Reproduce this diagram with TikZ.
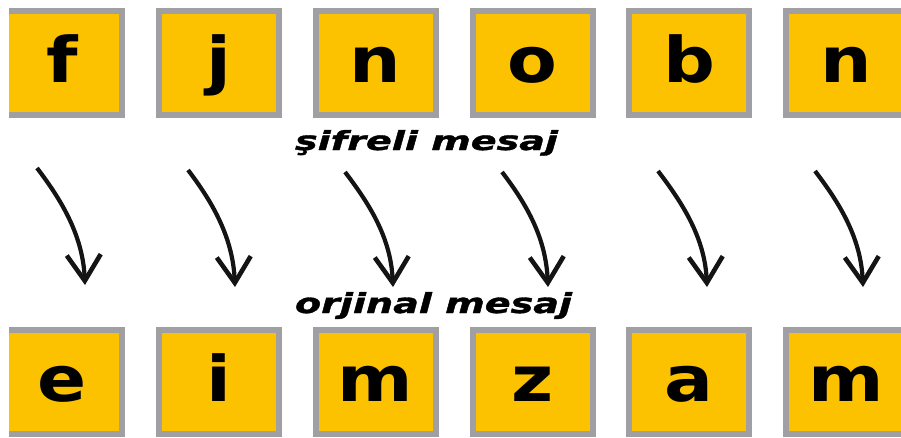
\documentclass[tikz,border=0pt]{standalone}
\usepackage{fontspec}
\setmainfont{DejaVu Sans}
\newfontfamily\capfont{DejaVu Sans Bold Oblique}[FakeBold=1.2]
\usetikzlibrary{arrows.meta,calc}
\definecolor{tileyellow}{HTML}{FCC200}
\definecolor{tilegray}{HTML}{A09FA3}
\definecolor{inkblack}{HTML}{141414}
\newcommand{\tileletter}[1]{\scalebox{1.15}[1]{#1}}
\tikzset{
  tile/.style={draw=tilegray, fill=tileyellow, line width=6pt,
    minimum width=120pt, minimum height=104pt, inner sep=0pt, outer sep=0pt,
    text height=38pt, text depth=0pt, text=black,
    font=\fontsize{63pt}{63pt}\selectfont\bfseries},
  caption/.style={anchor=base, inner sep=0pt, text=black,
    font=\fontsize{26pt}{26pt}\capfont},
  decode/.style={draw=inkblack, line width=4.2pt,
    -{Straight Barb[length=26pt,width=34pt,line width=4.6pt]}},
}
\begin{document}
\begin{tikzpicture}[x=1pt,y=-1pt]
  \useasboundingbox (0,0) rectangle (901,437);
  \clip (0,0) rectangle (901,437);

  % ciphertext row
  \node[tile] (c1) at (62,63)  {\tileletter{f}};
  \node[tile] (c2) at (219,63) {\tileletter{j}};
  \node[tile] (c3) at (375.5,63) {\tileletter{n}};
  \node[tile] (c4) at (532.5,63) {\tileletter{o}};
  \node[tile] (c5) at (689,63) {\tileletter{b}};
  \node[tile] (c6) at (846,63) {\tileletter{n}};

  % plaintext row
  \node[tile] (p1) at (62,382)  {\tileletter{e}};
  \node[tile] (p2) at (219,382) {\tileletter{i}};
  \node[tile] (p3) at (375.5,382) {\tileletter{m}};
  \node[tile] (p4) at (532.5,382) {\tileletter{z}};
  \node[tile] (p5) at (689,382) {\tileletter{a}};
  \node[tile] (p6) at (846,382) {\tileletter{m}};

  % white strip on the left edge
  \fill[white] (0,0) rectangle (9,437);

  % captions
  \node[caption] (cipher) at (426.5,150) {\resizebox{263pt}{20pt}{şifreli mesaj}};
  \node[caption] (plain)  at (433.5,313) {\resizebox{277pt}{21pt}{orjinal mesaj}};

  % decoding arrows
  \foreach \i/\sx/\sy/\tx/\ty in {1/37/168/85/285, 2/188/170/235/287,
      3/345/172/393/287, 4/502/172/548/287, 5/658/171/707/287, 6/815/171/863/287} {
    \coordinate (s\i) at (\sx,\sy);
    \coordinate (t\i) at (\tx,\ty);
    \draw[decode] (s\i) .. controls ($(s\i)+(26,34)$) and ($(t\i)+(-2,-48)$) .. (t\i);
  }
\end{tikzpicture}
\end{document}
